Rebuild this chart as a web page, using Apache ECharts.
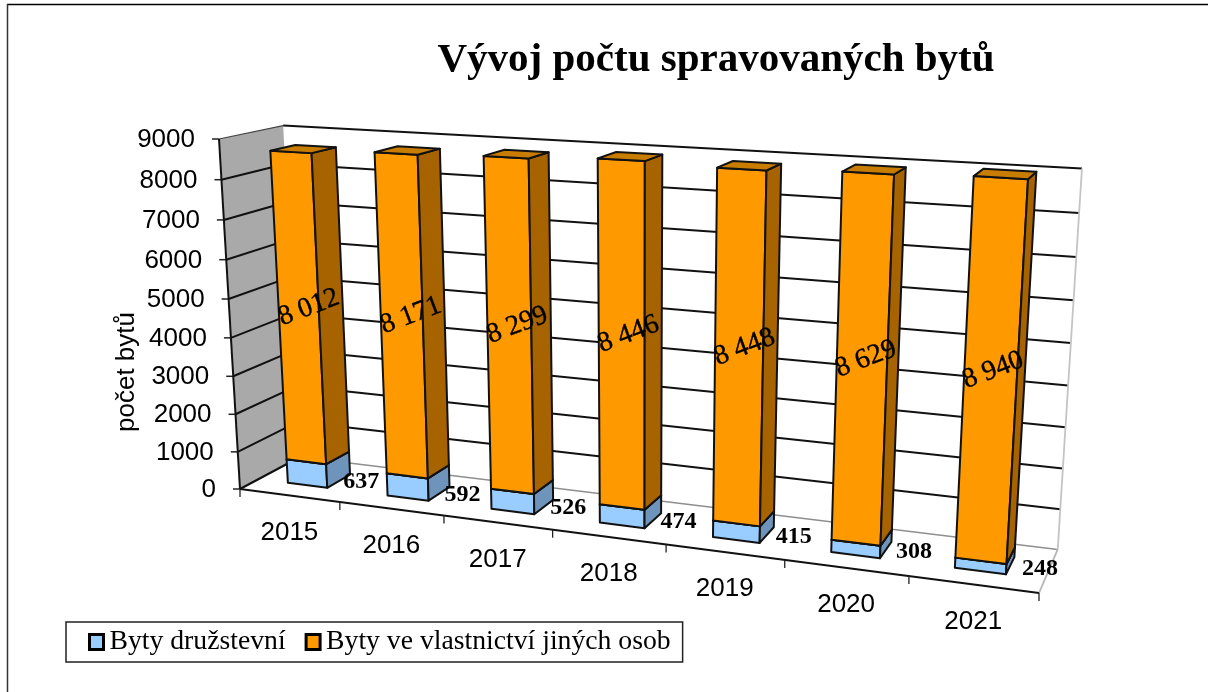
<!DOCTYPE html>
<html>
<head>
<meta charset="utf-8">
<style>
html, body { margin: 0; padding: 0; background: #fff; }
#chart { width: 1208px; height: 692px; }
</style>
<script src="https://cdn.jsdelivr.net/npm/echarts@6/dist/echarts.min.js"></script>
</head>
<body>
<div id="chart"></div>
<script>
const years = ['2015', '2016', '2017', '2018', '2019', '2020', '2021'];
const druzstevni = [637, 592, 526, 474, 415, 308, 248];
const jinychOsob = [8012, 8171, 8299, 8446, 8448, 8629, 8940];
const yTicks = [0, 1000, 2000, 3000, 4000, 5000, 6000, 7000, 8000, 9000];
const yMax = 9000;

// fake 3D: corners of the plot box on screen, w = perspective weights
const O = [240, 489], EX = [1039, 593], EY = [219, 139], EZ = [300, 457];
const wx = 0.857, wy = 0.95, wz = 1.058;
const barFrom = 0.3, barTo = 0.7; // bar footprint inside a category, also in depth

function project(x, y, z) {
  const w = 1 + x * (wx - 1) + y * (wy - 1) + z * (wz - 1);
  const px = O[0] + x * (wx * EX[0] - O[0]) + y * (wy * EY[0] - O[0]) + z * (wz * EZ[0] - O[0]);
  const py = O[1] + x * (wx * EX[1] - O[1]) + y * (wy * EY[1] - O[1]) + z * (wz * EZ[1] - O[1]);
  return [px / w, py / w];
}

// grid pixel -> unit box coordinate, so marks still go through the axes
function toUnit(params, api, cat, value) {
  const cs = params.coordSys;
  const c = api.coord([cat, value]);
  const band = api.size([1, 0])[0];
  return [(c[0] - band / 2 - cs.x) / cs.width, (cs.y + cs.height - c[1]) / cs.height];
}

function face(points, fill, stroke, width) {
  return {
    type: 'polygon',
    shape: { points: points },
    style: { fill: fill, stroke: stroke || '#111', lineWidth: width === undefined ? 2 : width, lineJoin: 'round' }
  };
}

function line(a, b, color, width) {
  return {
    type: 'line',
    shape: { x1: a[0], y1: a[1], x2: b[0], y2: b[1] },
    style: { stroke: color, lineWidth: width }
  };
}

function text(str, p, font, rotation, align) {
  return {
    type: 'text',
    x: p[0],
    y: p[1],
    rotation: rotation || 0,
    style: { text: str, font: font, fill: '#000', align: align || 'center', verticalAlign: 'middle' }
  };
}

function renderBox(params, api) {
  const children = [];
  const yUnit = (v) => toUnit(params, api, 0, v)[1];
  const xUnit = (i) => toUnit(params, api, i, 0)[0];
  const xEnd = xUnit(years.length - 1) + (xUnit(1) - xUnit(0));
  const axisFont = '26px "Liberation Sans"';

  children.push(face([project(0, 0, 0), project(0, 1, 0), project(0, 1, 1), project(0, 0, 1)], '#a9a9a9', '#a9a9a9', 0));

  yTicks.forEach((v) => {
    const y = yUnit(v);
    const front = project(0, y, 0);
    const back = project(0, y, 1);
    const end = project(xEnd, y, 1);
    children.push(line(front, back, v === 9000 ? '#444' : '#111', v === 9000 ? 1.2 : 2));
    children.push(line(back, end, v === 0 ? '#8f8f8f' : '#111', v === 0 ? 1.5 : 2));
    children.push(line([front[0] - 7, front[1]], front, '#222', 1.5));
    children.push(text(String(v), [front[0] - 24, front[1] + 1], axisFont, 0, 'right'));
  });

  children.push(line(project(xEnd, 0, 0), project(xEnd, 0, 1), '#b5b5b5', 1.8));
  children.push(line(project(xEnd, 0, 1), project(xEnd, 1, 1), '#c4c4c4', 1.8));
  children.push(line(project(0, 0, 0), project(0, 1, 0), '#111', 2));
  children.push(line(project(0, 0, 0), project(xEnd, 0, 0), '#111', 2));

  for (let i = 0; i <= years.length; i++) {
    const x = i === years.length ? xEnd : xUnit(i);
    const p = project(x, 0, 0);
    children.push(line(p, [p[0], p[1] + 8], '#222', 1.3));
  }
  years.forEach((year, i) => {
    const p = project(xUnit(i) + (xUnit(1) - xUnit(0)) / 2, 0, 0);
    children.push(text(year, [p[0], p[1] + 37], axisFont));
  });
  return { type: 'group', children: children };
}

function barFaces(params, api, front, side, top) {
  const i = api.value(0);
  const base = api.value(2);
  const stacked = Math.min(base + api.value(1), yMax);
  const band = toUnit(params, api, 1, 0)[0] - toUnit(params, api, 0, 0)[0];
  const x0 = toUnit(params, api, i, 0)[0] + band * barFrom;
  const x1 = toUnit(params, api, i, 0)[0] + band * barTo;
  const y0 = toUnit(params, api, i, base)[1];
  const y1 = toUnit(params, api, i, stacked)[1];
  const z0 = barFrom, z1 = barTo;
  return {
    x0: x0, x1: x1, y0: y0, y1: y1, z0: z0, z1: z1,
    children: [
      face([project(x0, y0, z0), project(x1, y0, z0), project(x1, y1, z0), project(x0, y1, z0)], front),
      face([project(x1, y0, z0), project(x1, y0, z1), project(x1, y1, z1), project(x1, y1, z0)], side),
      face([project(x0, y1, z0), project(x1, y1, z0), project(x1, y1, z1), project(x0, y1, z1)], top)
    ]
  };
}

function renderDruzstevni(params, api) {
  const bar = barFaces(params, api, '#99ccff', '#6f94bb', '#8fbce8');
  const corner = project(bar.x1, bar.y0, bar.z0);
  bar.children.push(text(String(api.value(1)), [corner[0] + 34, corner[1] - 6], 'bold 24px "Liberation Serif"'));
  return { type: 'group', children: bar.children };
}

function renderJinychOsob(params, api) {
  const bar = barFaces(params, api, '#ff9900', '#a66300', '#c87c00');
  const mid = project((bar.x0 + bar.x1) / 2, (bar.y0 + bar.y1) / 2, (bar.z0 + bar.z1) / 2);
  const v = String(api.value(1));
  const label = v.slice(0, -3) + ' ' + v.slice(-3);
  const el = text(label, [mid[0] - 2, mid[1] + 2], '28px "Liberation Serif"', 0.36);
  el.style.stroke = '#000';
  el.style.lineWidth = 0.4;
  bar.children.push(el);
  return { type: 'group', children: bar.children };
}

const chart = echarts.init(document.getElementById('chart'));
chart.setOption({
  animation: false,
  title: {
    text: 'Vývoj počtu spravovaných bytů',
    left: 711,
    top: 35,
    textAlign: 'center',
    textStyle: { fontFamily: 'Liberation Serif', fontWeight: 'bold', fontSize: 41, color: '#000' }
  },
  graphic: [
    { type: 'line', shape: { x1: 7, y1: 4.5, x2: 1208, y2: 4.5 }, style: { stroke: '#000', lineWidth: 1.5 }, silent: true },
    { type: 'line', shape: { x1: 7.5, y1: 4, x2: 7.5, y2: 692 }, style: { stroke: '#333', lineWidth: 1.5 }, silent: true }
  ],
  legend: {
    left: 66,
    top: 622,
    padding: [6, 12, 6, 22],
    borderColor: '#222',
    borderWidth: 1.5,
    itemWidth: 14,
    itemHeight: 15,
    itemGap: 19,
    icon: 'rect',
    data: ['Byty družstevní', 'Byty ve vlastnictví jiných osob'],
    itemStyle: { borderColor: '#000', borderWidth: 3 },
    textStyle: { fontFamily: 'Liberation Serif', fontSize: 27.7, color: '#000', padding: [0, 0, 0, 1] }
  },
  grid: { left: 222, top: 142, width: 800, height: 346 },
  xAxis: { type: 'category', data: years, show: false },
  yAxis: {
    type: 'value',
    min: 0,
    max: yMax,
    interval: 1000,
    name: 'počet bytů',
    nameLocation: 'middle',
    nameGap: 82,
    nameRotate: 90,
    nameTextStyle: { fontFamily: 'Liberation Sans', fontSize: 26, color: '#000', padding: [0, 114, 0, 0] },
    axisLine: { show: false },
    axisTick: { show: false },
    splitLine: { show: false },
    axisLabel: { show: false }
  },
  series: [
    {
      type: 'custom',
      name: 'box',
      silent: true,
      clip: false,
      renderItem: renderBox,
      encode: { x: 0, y: 1 },
      data: [[0, 0]]
    },
    {
      type: 'custom',
      name: 'Byty družstevní',
      clip: false,
      itemStyle: { color: '#99ccff' },
      renderItem: renderDruzstevni,
      encode: { x: 0, y: 1 },
      data: druzstevni.map((v, i) => [i, v, 0])
    },
    {
      type: 'custom',
      name: 'Byty ve vlastnictví jiných osob',
      clip: false,
      itemStyle: { color: '#ff9900' },
      renderItem: renderJinychOsob,
      encode: { x: 0, y: 1 },
      data: jinychOsob.map((v, i) => [i, v, druzstevni[i]])
    }
  ]
});
</script>
</body>
</html>
